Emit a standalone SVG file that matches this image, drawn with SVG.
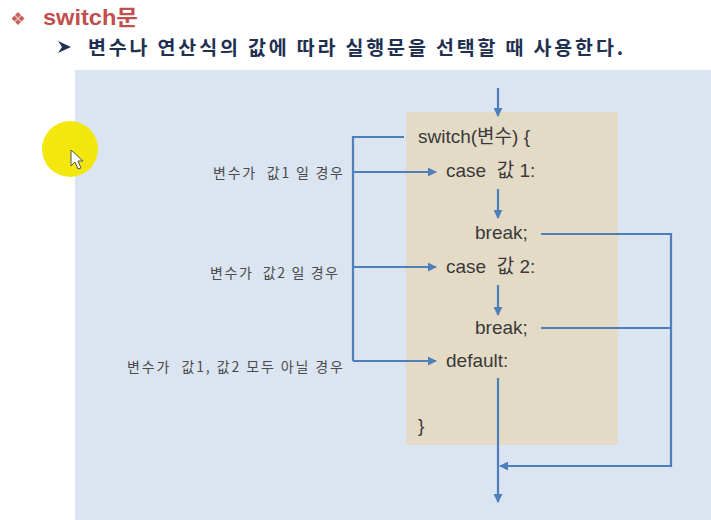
<svg xmlns="http://www.w3.org/2000/svg" width="711" height="520" viewBox="0 0 711 520">
<style>
.code{font-family:"Liberation Sans","Noto Sans CJK KR",sans-serif;font-size:19px;fill:#3a3a3a;white-space:pre}
.lbl{font-family:"Noto Sans CJK KR",sans-serif;font-size:14px;fill:#4a4a4a;text-anchor:end;white-space:pre}
.ln{stroke:#4f7fba;stroke-width:2.2;fill:none}
</style>
<defs>
<marker id="ah" viewBox="0 0 10 10" refX="9" refY="5" markerWidth="9" markerHeight="9" markerUnits="userSpaceOnUse" orient="auto">
<path d="M0,0 L10,5 L0,10 z" fill="#4f7fba"/>
</marker>
</defs>
<rect width="711" height="520" fill="#ffffff"/>
<g id="title">
<g fill="#c9625c">
<path d="M18,12 l3,3 l-3,3 l-3,-3z"/>
<path d="M18,19 l3,3 l-3,3 l-3,-3z"/>
<path d="M14.5,15.5 l3,3 l-3,3 l-3,-3z"/>
<path d="M21.5,15.5 l3,3 l-3,3 l-3,-3z"/>
</g>
<text x="43" y="25" font-family="Liberation Sans,'Noto Sans CJK KR',sans-serif" font-size="22" font-weight="bold" fill="#c0504d" textLength="95" lengthAdjust="spacingAndGlyphs">switch문</text>
<path d="M58,41 L71,47 L58,53 L62,47 z" fill="#1f3050"/>
<text x="88" y="55" font-family="'Noto Sans CJK KR',sans-serif" font-size="19.5" font-weight="bold" fill="#1f3050" textLength="535">변수나 연산식의 값에 따라 실행문을 선택할 때 사용한다.</text>
</g>
<rect id="panel" x="75" y="70" width="636" height="450" fill="#dbe4f1"/>
<g id="cursor">
<circle cx="70" cy="149" r="28" fill="#f2e600" opacity="0.95"/>
<path d="M71,150 L71,166 L75,162 L78,169 L81,168 L78,161 L83,161 z" fill="#fff" stroke="#555" stroke-width="1"/>
</g>
<rect id="codebox" x="406" y="112" width="212" height="333" fill="#e4dbc7"/>
<g id="connectors">
<line class="ln" x1="498" y1="88" x2="498" y2="116" marker-end="url(#ah)"/>
<polyline class="ln" points="404,137 353,137 353,361"/>
<line class="ln" x1="353" y1="172" x2="436" y2="172" marker-end="url(#ah)"/>
<line class="ln" x1="353" y1="267" x2="436" y2="267" marker-end="url(#ah)"/>
<line class="ln" x1="353" y1="361" x2="436" y2="361" marker-end="url(#ah)"/>
<line class="ln" x1="498" y1="189" x2="498" y2="218" marker-end="url(#ah)"/>
<line class="ln" x1="498" y1="285" x2="498" y2="315" marker-end="url(#ah)"/>
<polyline class="ln" points="541,234 671,234 671,466 500,466" marker-end="url(#ah)"/>
<line class="ln" x1="541" y1="328" x2="671" y2="328"/>
<line class="ln" x1="498" y1="378" x2="498" y2="502" marker-end="url(#ah)"/>
</g>
<g id="code">
<text class="code" x="418" y="143">switch(변수) {</text>
<text class="code" x="446" y="177" xml:space="preserve">case  값 1:</text>
<text class="code" x="475" y="239">break;</text>
<text class="code" x="446" y="273" xml:space="preserve">case  값 2:</text>
<text class="code" x="475" y="334">break;</text>
<text class="code" x="446" y="367">default:</text>
<text class="code" x="418" y="432">}</text>
</g>
<g id="labels">
<text class="lbl" x="343" y="178" textLength="130" xml:space="preserve">변수가  값1 일 경우</text>
<text class="lbl" x="338" y="278" textLength="128" xml:space="preserve">변수가  값2 일 경우</text>
<text class="lbl" x="343" y="372" textLength="216" xml:space="preserve">변수가  값1, 값2 모두 아닐 경우</text>
</g>
</svg>
